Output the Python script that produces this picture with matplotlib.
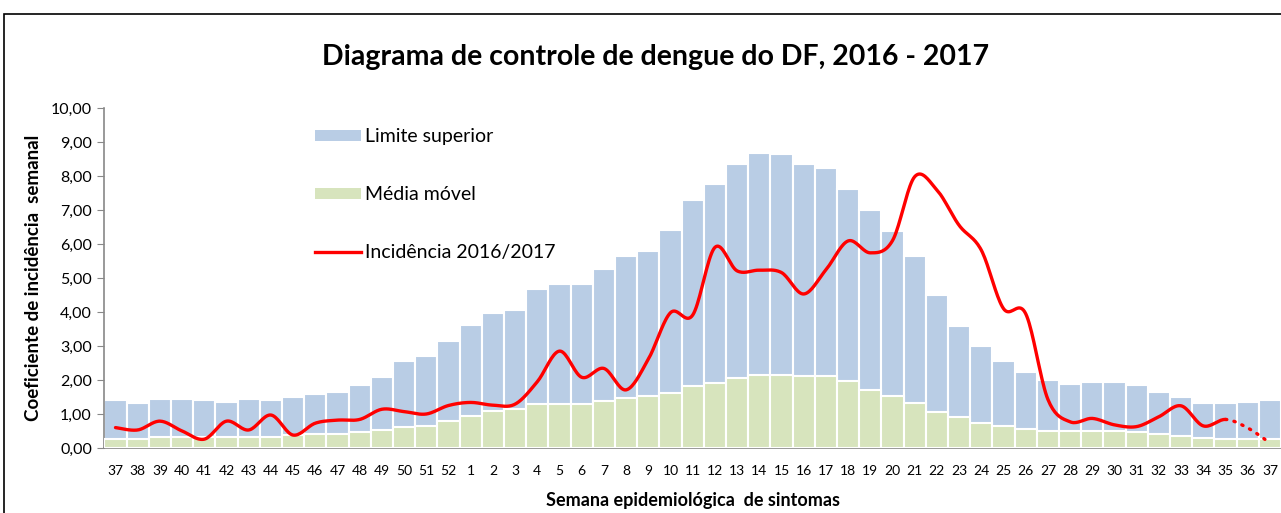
import numpy as np
import matplotlib.pyplot as plt
from matplotlib.patches import Patch
from matplotlib.lines import Line2D

plt.rcParams['font.family'] = ['Lato', 'DejaVu Sans']

# Semanas epidemiológicas (37/2016 a 37/2017)
semanas = [str(s) for s in list(range(37, 53)) + list(range(1, 38))]

limite_superior = [1.41, 1.31, 1.45, 1.45, 1.41, 1.36, 1.45, 1.41, 1.51, 1.60,
                   1.65, 1.85, 2.09, 2.57, 2.72, 3.16, 3.63, 3.97, 4.06, 4.69,
                   4.83, 4.83, 5.26, 5.66, 5.79, 6.42, 7.29, 7.77, 8.35, 8.69,
                   8.64, 8.35, 8.25, 7.62, 7.00, 6.37, 5.65, 4.50, 3.58, 3.00,
                   2.56, 2.23, 1.99, 1.89, 1.94, 1.94, 1.84, 1.65, 1.50, 1.31,
                   1.31, 1.36, 1.41]

media_movel = [0.26, 0.26, 0.33, 0.33, 0.33, 0.33, 0.33, 0.33, 0.38, 0.41,
               0.41, 0.48, 0.53, 0.61, 0.65, 0.79, 0.94, 1.09, 1.15, 1.29,
               1.29, 1.29, 1.38, 1.47, 1.53, 1.62, 1.82, 1.90, 2.06, 2.15,
               2.15, 2.11, 2.11, 1.96, 1.71, 1.53, 1.33, 1.05, 0.90, 0.75,
               0.65, 0.56, 0.51, 0.51, 0.51, 0.51, 0.46, 0.40, 0.35, 0.30,
               0.26, 0.26, 0.26]

incidencia = [0.60, 0.53, 0.79, 0.50, 0.26, 0.79, 0.53, 0.97, 0.38, 0.73,
              0.82, 0.84, 1.14, 1.07, 1.00, 1.25, 1.34, 1.26, 1.29, 1.95,
              2.85, 2.08, 2.34, 1.71, 2.61, 3.98, 3.91, 5.90, 5.21, 5.23,
              5.16, 4.53, 5.24, 6.09, 5.74, 6.10, 7.98, 7.59, 6.55, 5.82,
              4.10, 3.95, 1.43, 0.77, 0.87, 0.68, 0.63, 0.92, 1.24, 0.65,
              0.84, 0.59, 0.15]
ultima_completa = 50  # semana 35/2017, dados seguintes incompletos


def suaviza(x, y, n=20):
    # curva suavizada tipo Excel (Catmull-Rom via Bezier)
    x = np.asarray(x, float)
    y = np.asarray(y, float)
    xs, ys = [], []
    for i in range(len(x) - 1):
        p0 = i - 1 if i > 0 else i
        p3 = i + 2 if i + 2 < len(x) else i + 1
        c1x = x[i] + (x[i + 1] - x[p0]) / 6
        c1y = y[i] + (y[i + 1] - y[p0]) / 6
        c2x = x[i + 1] - (x[p3] - x[i]) / 6
        c2y = y[i + 1] - (y[p3] - y[i]) / 6
        t = np.linspace(0, 1, n)
        bx = ((1 - t) ** 3 * x[i] + 3 * (1 - t) ** 2 * t * c1x
              + 3 * (1 - t) * t ** 2 * c2x + t ** 3 * x[i + 1])
        by = ((1 - t) ** 3 * y[i] + 3 * (1 - t) ** 2 * t * c1y
              + 3 * (1 - t) * t ** 2 * c2y + t ** 3 * y[i + 1])
        xs.append(bx)
        ys.append(by)
    return xs, ys


fig = plt.figure(figsize=(12.81, 5.13), dpi=100)
ax = fig.add_axes([104.4 / 1281, 1 - 448 / 513, 1 - 104.4 / 1281, 340 / 513])

pos = np.arange(len(semanas))
ax.bar(pos, limite_superior, width=1.0, color='#B9CDE5', edgecolor='white',
       linewidth=1.5, zorder=2)
ax.bar(pos, media_movel, width=1.0, color='#D7E4BD', edgecolor='white',
       linewidth=1.5, zorder=3)

xs, ys = suaviza(pos, incidencia)
xsol = np.concatenate(xs[:ultima_completa])
ysol = np.concatenate(ys[:ultima_completa])
xdot = np.concatenate(xs[ultima_completa:])
ydot = np.concatenate(ys[ultima_completa:])
ax.plot(xsol, ysol, color='#FF0000', lw=2.4, zorder=4, solid_capstyle='round')
ax.plot(xdot, ydot, color='#FF0000', lw=2.4, ls=(0, (0.4, 2.2)),
        dash_capstyle='round', zorder=4)

ax.set_xlim(-0.5, len(semanas) - 0.5)
ax.set_ylim(0, 10)
ax.set_yticks(np.arange(0, 11, 1))
ax.set_yticklabels([('%.2f' % v).replace('.', ',') for v in np.arange(0, 11, 1)])
ax.set_xticks(pos)
ax.set_xticklabels(semanas)
ax.tick_params(axis='x', length=0, pad=12, labelsize=10)
ax.tick_params(axis='y', length=5, color='#888888', pad=4, labelsize=11.5)
for s in ['top', 'right']:
    ax.spines[s].set_visible(False)
for s in ['left', 'bottom']:
    ax.spines[s].set_color('#888888')
    ax.spines[s].set_linewidth(1.2)

ax.set_ylabel('Coeficiente de incidência  semanal', fontsize=13.5,
              fontweight='bold', labelpad=6)
ax.set_xlabel('Semana epidemiológica  de sintomas', fontsize=13,
              fontweight='bold', labelpad=11)
fig.text(0.512, 1 - 57 / 513, 'Diagrama de controle de dengue do DF, 2016 - 2017',
         ha='center', va='center', fontsize=20.5, fontweight='bold')

handles = [Patch(facecolor='#B9CDE5'), Patch(facecolor='#D7E4BD'),
           Line2D([], [], color='#FF0000', lw=2.4)]
labels = ['Limite superior', 'Média móvel', 'Incidência 2016/2017']
fig.legend(handles, labels, loc='upper left',
           bbox_to_anchor=(297 / 1281, 1 - 111 / 513), frameon=False,
           fontsize=14, labelspacing=2.1, handlelength=2.4, handleheight=0.5,
           handletextpad=0.2)

# moldura do gráfico
fig.add_artist(plt.Rectangle((4 / 1281, -0.05), 1.1, 1 - 14 / 513 + 0.05,
                             transform=fig.transFigure, fill=False,
                             edgecolor='black', lw=1.2))

plt.savefig('out.png', dpi=100)
